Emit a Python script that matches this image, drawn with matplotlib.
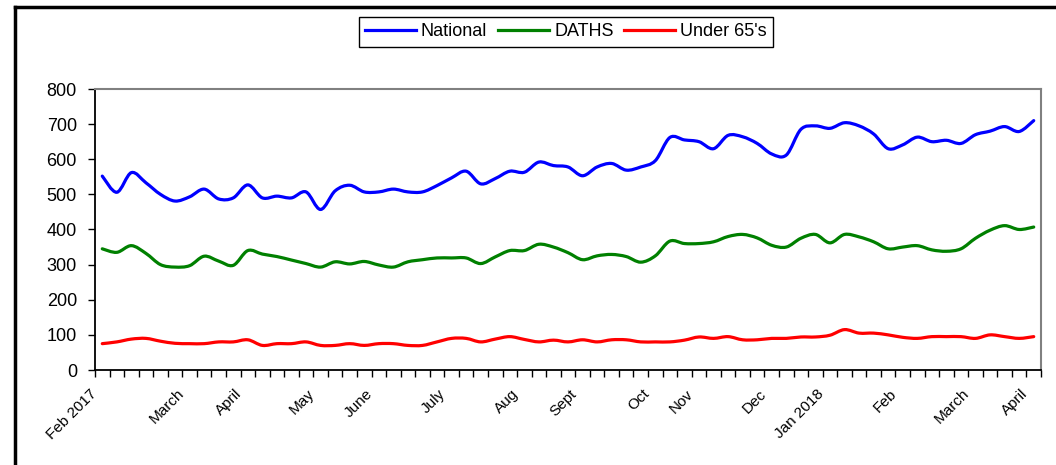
import numpy as np
import matplotlib
matplotlib.use('Agg')
import matplotlib.pyplot as plt
import matplotlib.transforms as mtransforms
from matplotlib.lines import Line2D
from matplotlib.path import Path
from matplotlib.patches import PathPatch

plt.rcParams['font.family'] = ['Liberation Sans', 'DejaVu Sans']

# weekly values, Feb 2017 - April 2018
national = [552, 506, 562, 533, 500, 481, 493, 515, 487, 490,
            527, 490, 495, 490, 507, 457, 510, 526, 507, 507,
            515, 507, 507, 525, 547, 566, 530, 545, 566, 563,
            592, 582, 578, 553, 578, 588, 569, 578, 596, 662,
            655, 650, 630, 668, 664, 645, 615, 612, 685, 695,
            688, 704, 695, 672, 630, 641, 663, 650, 654, 645,
            670, 680, 693, 679, 710]
daths = [345, 335, 354, 332, 300, 293, 297, 324, 310, 298,
         340, 330, 323, 313, 303, 293, 308, 302, 309, 299,
         293, 308, 314, 319, 319, 319, 303, 322, 340, 340,
         358, 350, 334, 314, 325, 329, 323, 307, 325, 367,
         360, 360, 365, 380, 386, 376, 355, 350, 375, 386,
         362, 386, 379, 365, 345, 350, 354, 342, 338, 345,
         375, 398, 411, 400, 407]
under65 = [75, 80, 88, 90, 82, 76, 75, 75, 80, 80,
           86, 70, 75, 75, 80, 70, 70, 75, 70, 75,
           75, 70, 70, 80, 90, 90, 80, 88, 95, 87,
           80, 85, 80, 86, 80, 86, 86, 80, 80, 80,
           85, 94, 90, 95, 86, 86, 90, 90, 94, 94,
           99, 115, 105, 105, 100, 93, 90, 95, 95, 95,
           90, 100, 95, 90, 95]

# which week carries a month label
month_pos = [0, 6, 10, 15, 19, 24, 29, 33, 38, 41, 46, 50, 55, 60, 64]
month_names = ['Feb 2017', 'March', 'April', 'May', 'June', 'July', 'Aug',
               'Sept', 'Oct', 'Nov', 'Dec', 'Jan 2018', 'Feb', 'March', 'April']

n = len(national)
weeks = np.arange(n)


def smooth_path(x, y):
    # Excel-style smoothed line: cubic bezier through every point
    x = np.asarray(x, float)
    y = np.asarray(y, float)
    verts = [(x[0], y[0])]
    codes = [Path.MOVETO]
    for i in range(len(x) - 1):
        i0 = max(i - 1, 0)
        i3 = min(i + 2, len(x) - 1)
        c1 = (x[i] + (x[i + 1] - x[i0]) / 6, y[i] + (y[i + 1] - y[i0]) / 6)
        c2 = (x[i + 1] - (x[i3] - x[i]) / 6, y[i + 1] - (y[i3] - y[i]) / 6)
        verts += [c1, c2, (x[i + 1], y[i + 1])]
        codes += [Path.CURVE4] * 3
    return Path(verts, codes)


fig = plt.figure(figsize=(10.56, 4.65), dpi=100)
ax = fig.add_axes([95/1056, 95/465, 946/1056, 281/465])

series = [(national, '#0000FF', 'National'),
          (daths, '#008000', 'DATHS'),
          (under65, '#FF0000', "Under 65's")]
handles = []
for vals, col, name in series:
    ax.add_patch(PathPatch(smooth_path(weeks, vals), facecolor='none',
                           edgecolor=col, lw=2.3, capstyle='round', joinstyle='round'))
    handles.append(Line2D([], [], color=col, lw=2.3, label=name))

ax.set_xlim(-0.5, n - 0.5)
ax.set_ylim(0, 800)
ax.set_yticks(range(0, 801, 100))

ax.set_xticks(month_pos)
ax.set_xticklabels(month_names, rotation=45, ha='right', va='top',
                   rotation_mode='anchor', fontsize=11)
ax.set_xticks(np.arange(-0.5, n, 1), minor=True)
ax.tick_params(axis='x', which='major', length=0, pad=12)
ax.tick_params(axis='x', which='minor', length=5, width=1, direction='out')
ax.tick_params(axis='y', length=5, width=1, labelsize=13, pad=8)

shift = mtransforms.ScaledTranslation(-13/100, 0, fig.dpi_scale_trans)
for lbl in ax.get_xticklabels():
    lbl.set_transform(lbl.get_transform() + shift)

for s in ['left', 'bottom']:
    ax.spines[s].set_color('black')
    ax.spines[s].set_linewidth(1.3)
for s in ['top', 'right']:
    ax.spines[s].set_color('#808080')
    ax.spines[s].set_linewidth(1.5)

leg = fig.legend(handles=handles, loc='center', bbox_to_anchor=(566/1056, 1 - 32/465),
                 ncol=3, fancybox=False, edgecolor='black', framealpha=1, fontsize=13,
                 handlelength=2.8, columnspacing=0.6, handletextpad=0.3,
                 borderpad=0.35)
leg.get_frame().set_linewidth(1.0)

# outer chart frame (top and left edges visible)
fx = 15/1056
fy = 1 - 7/465
fig.add_artist(Line2D([fx, 1], [fy, fy], transform=fig.transFigure, color='black', lw=2.5))
fig.add_artist(Line2D([fx, fx], [0, fy], transform=fig.transFigure, color='black', lw=2.5))

fig.savefig('out.png', dpi=100)
